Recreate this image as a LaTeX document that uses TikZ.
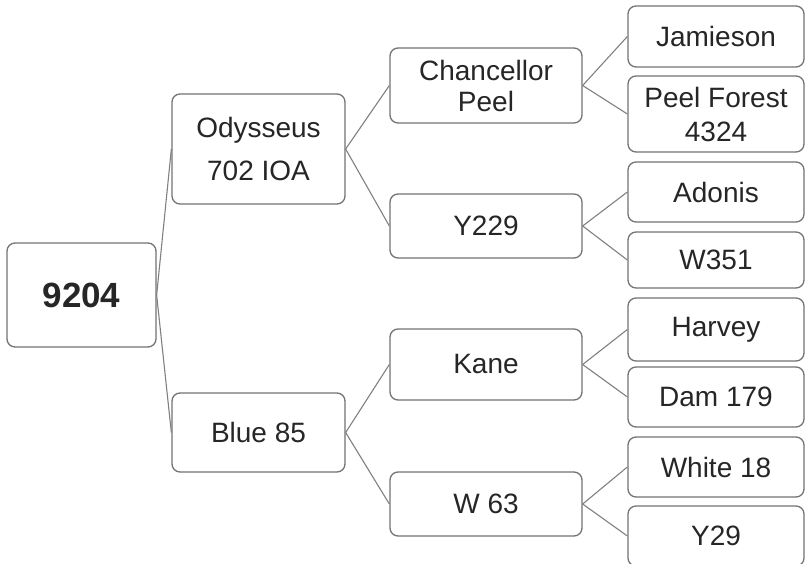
\documentclass[tikz,border=0pt]{standalone}
\usepackage{fontspec}
\setmainfont{Liberation Sans}
\usepackage{tikz}
\usetikzlibrary{calc}

\begin{document}
\begin{tikzpicture}[x=1pt, y=-1pt,
  box/.style={draw=black!55, line width=1.3pt, fill=white, rounded corners=8pt,
    align=center, text=black!85, inner sep=0pt, font=\fontsize{28}{33}\selectfont},
  lvlone/.style={box, minimum width=173pt},
  lvltwo/.style={box, minimum width=192pt},
  lvlthree/.style={box, minimum width=176pt},
  edge/.style={draw=black!50, line width=1.1pt}]

\useasboundingbox (0,0) rectangle (805,564);

%root
\node [box, minimum width=149pt, minimum height=104pt, font=\fontsize{35}{40}\selectfont\bfseries] (root) at (81.5,295) {9204};

%first level
\node [lvlone, minimum height=110pt, font=\fontsize{28}{43}\selectfont] (ody) at (258.5,149) {Odysseus\\702 IOA};
\node [lvlone, minimum height=79pt] (blue) at (258.5,432.5) {Blue 85};

%second level
\node [lvltwo, minimum height=75pt, font=\fontsize{28}{31}\selectfont] (chan) at (486,85.5) {Chancellor\\Peel};
\node [lvltwo, minimum height=64pt] (y229) at (486,226) {Y229};
\node [lvltwo, minimum height=71pt] (kane) at (486,364.5) {Kane};
\node [lvltwo, minimum height=64pt] (w63) at (486,504) {W 63};

%third level
\node [lvlthree, minimum height=61pt] (jam) at (716,36.5) {Jamieson};
\node [lvlthree, minimum height=76pt, font=\fontsize{28}{34}\selectfont] (peel) at (716,114) {Peel Forest\\4324};
\node [lvlthree, minimum height=60pt] (adon) at (716,192) {Adonis};
\node [lvlthree, minimum height=56pt] (w351) at (716,260) {W351};
\node [lvlthree, minimum height=63pt] (harv) at (716,329.5) {Harvey};
\node [lvlthree, minimum height=60pt] (dam) at (716,397) {Dam 179};
\node [lvlthree, minimum height=60pt] (white) at (716,467) {White 18};
\node [lvlthree, minimum height=60pt] (y29) at (716,536) {Y29};

%edges from root
\draw [edge] (root.east) -- (ody.west);
\draw [edge] (root.east) -- (blue.west);

%edges from first level
\draw [edge] (ody.east) -- (chan.west);
\draw [edge] (ody.east) -- (y229.west);
\draw [edge] (blue.east) -- (kane.west);
\draw [edge] (blue.east) -- (w63.west);

%edges from second level
\draw [edge] (chan.east) -- (jam.west);
\draw [edge] (chan.east) -- (peel.west);
\draw [edge] (y229.east) -- (adon.west);
\draw [edge] (y229.east) -- (w351.west);
\draw [edge] (kane.east) -- (harv.west);
\draw [edge] (kane.east) -- (dam.west);
\draw [edge] (w63.east) -- (white.west);
\draw [edge] (w63.east) -- (y29.west);

\end{tikzpicture}
\end{document}
